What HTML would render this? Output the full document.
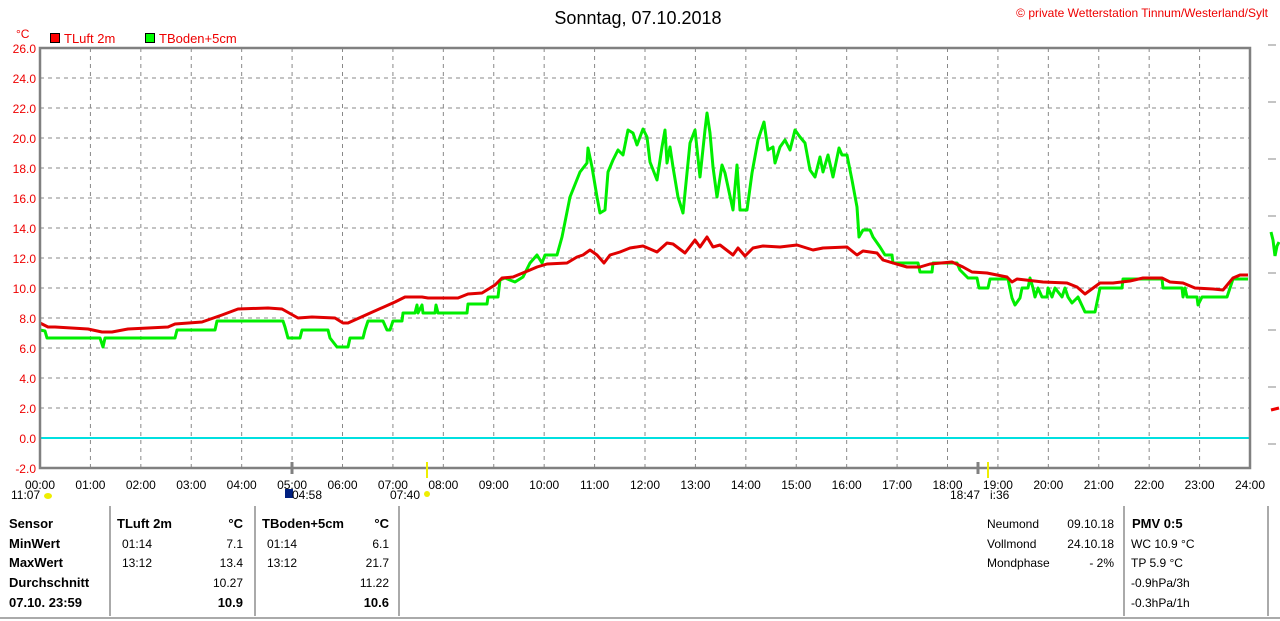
<!DOCTYPE html>
<html><head><meta charset="utf-8"><style>
body{margin:0;background:#fff;width:1280px;height:621px;overflow:hidden;font-family:"Liberation Sans",sans-serif}
svg{position:absolute;left:0;top:0}
</style></head><body>
<svg id="s" width="1280" height="621" xmlns="http://www.w3.org/2000/svg" font-family="Liberation Sans, sans-serif">
<text x="638" y="24" font-size="18" text-anchor="middle" fill="#000">Sonntag, 07.10.2018</text>
<text x="1268" y="17" font-size="12" text-anchor="end" fill="#e00">© private Wetterstation Tinnum/Westerland/Sylt</text>
<text x="16" y="38" font-size="12" fill="#e00">°C</text>
<rect x="50.5" y="33.5" width="9" height="9" fill="#f00" stroke="#000"/>
<text x="64" y="43" font-size="13" fill="#e00">TLuft 2m</text>
<rect x="145.5" y="33.5" width="9" height="9" fill="#0f0" stroke="#000"/>
<text x="159" y="43" font-size="13" fill="#e00">TBoden+5cm</text>
<g id="grid"></g>
<line x1="40" y1="438" x2="1250" y2="438" stroke="#00e0e0" stroke-width="2"/>
<polyline fill="none" stroke="#00ee00" stroke-width="3" stroke-linejoin="round" points="40,330 45,331 47,338 100,338 103,347 105,338 175,338 177,330 215,330 217,321 283,321 285,327 288,338 300,338 302,330 328,330 330,338 337,347 348,347 350,338 363,338 365,330 368,321 383,321 387,330 390,330 393,321 402,321 403,313 415,313 417,305 418,313 422,305 423,313 435,313 436,305 438,313 467,313 468,304 487,304 488,297 498,297 500,280 505,278 515,282 523,277 530,263 537,255 542,263 545,255 557,255 562,237 570,197 580,172 587,163 588,148 592,167 597,197 600,213 605,210 608,172 613,160 618,150 623,155 628,130 633,133 637,145 643,129 647,137 650,162 657,180 662,147 665,130 667,163 670,147 673,167 678,197 683,213 690,143 695,130 700,177 705,130 707,113 710,133 713,167 717,197 722,165 725,173 733,210 737,165 740,210 747,210 752,173 758,140 764,122 768,150 773,147 775,163 780,147 785,140 790,150 795,130 800,137 805,143 810,170 815,177 820,157 823,172 828,155 833,177 839,148 842,155 847,155 852,180 857,207 859,237 863,230 870,230 873,237 880,247 885,255 892,255 893,263 918,263 920,272 932,272 933,263 957,263 960,270 968,278 977,278 979,288 988,288 990,279 1008,279 1012,298 1015,305 1020,298 1022,288 1028,288 1030,278 1033,288 1035,297 1038,288 1042,297 1047,297 1048,288 1052,297 1055,288 1062,297 1065,288 1068,297 1072,303 1078,297 1085,312 1095,312 1100,288 1122,288 1123,279 1162,279 1163,288 1182,288 1183,297 1185,288 1187,297 1197,297 1198,305 1202,297 1227,297 1233,279 1248,279"/>
<polyline fill="none" stroke="#e00000" stroke-width="3" stroke-linejoin="round" points="40,323 48,327 55,327 88,329 102,332 112,332 128,329 168,327 175,324 202,322 222,315 238,309 268,308 282,309 298,318 312,317 335,318 343,323 348,323 368,314 395,302 405,297 422,297 428,298 458,298 468,294 482,293 495,285 502,278 513,277 530,270 537,267 547,264 567,263 577,257 583,255 590,250 597,255 604,263 610,255 620,252 630,248 643,246 657,252 667,243 673,244 685,253 695,240 700,247 707,237 713,247 720,245 733,255 738,248 745,256 753,248 763,246 780,247 797,245 813,250 823,248 847,247 857,255 863,251 877,253 883,260 893,263 907,267 920,267 930,264 952,262 963,267 972,272 987,273 1007,277 1012,282 1017,279 1043,282 1067,283 1077,287 1085,294 1100,283 1113,283 1130,281 1143,278 1162,278 1170,282 1183,283 1195,288 1213,289 1223,290 1233,278 1240,275 1248,275"/>
<path d="M40 48H1250V468H40Z" fill="none" stroke="#808080" stroke-width="2.5"/>
<line x1="427" y1="462" x2="427" y2="478" stroke="#ee0" stroke-width="2"/>
<line x1="988" y1="462" x2="988" y2="478" stroke="#ee0" stroke-width="2"/>
<line x1="292" y1="462" x2="292" y2="474" stroke="#808080" stroke-width="3"/>
<line x1="978" y1="462" x2="978" y2="474" stroke="#808080" stroke-width="3"/>
<g font-size="12" fill="#000">
<text x="11" y="499">11:07</text><ellipse cx="48" cy="496" rx="4" ry="3" fill="#ee0"/>
<rect x="285" y="489" width="8" height="9" fill="#002080"/><text x="292" y="499">04:58</text>
<text x="390" y="499">07:40</text><circle cx="427" cy="494" r="3" fill="#ee0"/>
<text x="950" y="499">18:47</text><text x="990" y="499">i:36</text>
</g>
<g font-size="13" fill="#000" font-weight="bold">
<text x="9" y="528">Sensor</text><text x="9" y="548">MinWert</text><text x="9" y="567">MaxWert</text><text x="9" y="587">Durchschnitt</text><text x="9" y="607">07.10. 23:59</text>
<text x="117" y="528">TLuft 2m</text><text x="243" y="528" text-anchor="end">°C</text>
<text x="262" y="528">TBoden+5cm</text><text x="389" y="528" text-anchor="end">°C</text>
<text x="243" y="607" text-anchor="end">10.9</text><text x="389" y="607" text-anchor="end">10.6</text>
<text x="1132" y="528">PMV 0:5</text>
</g>
<g font-size="12" fill="#000">
<text x="122" y="548">01:14</text><text x="243" y="548" text-anchor="end">7.1</text>
<text x="122" y="567">13:12</text><text x="243" y="567" text-anchor="end">13.4</text>
<text x="243" y="587" text-anchor="end">10.27</text>
<text x="267" y="548">01:14</text><text x="389" y="548" text-anchor="end">6.1</text>
<text x="267" y="567">13:12</text><text x="389" y="567" text-anchor="end">21.7</text>
<text x="389" y="587" text-anchor="end">11.22</text>
<text x="987" y="528">Neumond</text><text x="1114" y="528" text-anchor="end">09.10.18</text>
<text x="987" y="548">Vollmond</text><text x="1114" y="548" text-anchor="end">24.10.18</text>
<text x="987" y="567">Mondphase</text><text x="1114" y="567" text-anchor="end">- 2%</text>
<text x="1131" y="548">WC 10.9 °C</text><text x="1131" y="567">TP 5.9 °C</text>
<text x="1131" y="587">-0.9hPa/3h</text><text x="1131" y="607">-0.3hPa/1h</text>
</g>
<g stroke="#aaa" stroke-width="2">
<line x1="110" y1="506" x2="110" y2="616"/><line x1="255" y1="506" x2="255" y2="616"/><line x1="399" y1="506" x2="399" y2="616"/>
<line x1="1124" y1="506" x2="1124" y2="616"/><line x1="1268" y1="506" x2="1268" y2="616"/>
<line x1="0" y1="618" x2="1280" y2="618"/>
</g>
<polyline points="1271,232 1273,240 1275,256 1277,246 1279,242" fill="none" stroke="#0e0" stroke-width="3"/>
<line x1="1271" y1="410" x2="1279" y2="408" stroke="#e00" stroke-width="3"/>
</svg>
<script>
var gr=document.getElementById('grid'),h='';
function X(t){return 40+t*1210/24}function Y(v){return 438-15*v}
for(var v=-2;v<=26;v+=2){var y=Y(v);if(v>-2&&v<26)h+='<line x1="40" y1="'+y+'" x2="1250" y2="'+y+'" stroke="#888" stroke-dasharray="4,4"/>';
h+='<text x="36" y="'+(y+5)+'" font-size="12" fill="#e00" text-anchor="end">'+v.toFixed(1)+'</text>';}
for(var t=0;t<=24;t++){var x=X(t);if(t>0&&t<24)h+='<line x1="'+x+'" y1="48" x2="'+x+'" y2="468" stroke="#888" stroke-dasharray="4,4"/>';
h+='<text x="'+x+'" y="489" font-size="12" fill="#000" text-anchor="middle">'+(t<10?'0':'')+t+':00</text>';}
for(var i=0;i<8;i++){h+='<line x1="1268" y1="'+(45+i*57)+'" x2="1276" y2="'+(45+i*57)+'" stroke="#888"/>';}
gr.innerHTML=h;
</script>
</body></html>
